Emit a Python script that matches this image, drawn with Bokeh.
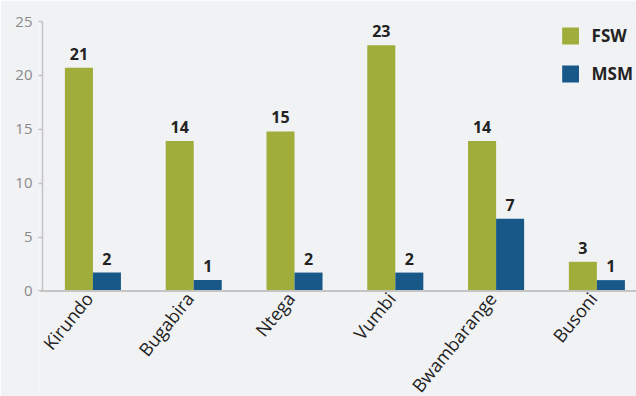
from bokeh.plotting import figure
from bokeh.models import ColumnDataSource, Range1d, FixedTicker, Legend, LegendItem, LabelSet
from bokeh.core.properties import value
from bokeh.embed import file_html
from bokeh.resources import INLINE

districts = ["Kirundo", "Bugabira", "Ntega", "Vumbi", "Bwambarange", "Busoni"]
fsw = [20.7, 13.9, 14.8, 22.8, 13.9, 2.7]
msm = [1.7, 1.0, 1.7, 1.7, 6.7, 1.0]
fsw_labels = ["21", "14", "15", "23", "14", "3"]
msm_labels = ["2", "1", "2", "2", "7", "1"]
y_ticks = [0, 5, 10, 15, 20, 25]

GREEN = "#a0ad3a"
BLUE = "#175889"
BG = "#f1f2f4"
AXIS = "#c4c4c4"
FONT = "Open Sans"

X0, X1 = -0.03, 5.893
Y0, Y1 = -9.8, 25

centers = [i + 0.5 for i in range(len(districts))]
bw = 0.278
src = ColumnDataSource(dict(
    xf=[c - bw / 2 for c in centers],
    xm=[c + bw / 2 for c in centers],
    fsw=fsw, msm=msm, fl=fsw_labels, ml=msm_labels,
))
cat_src = ColumnDataSource(dict(x=centers, y=[0] * len(centers), name=districts))

p = figure(width=636, height=396, output_backend="svg", toolbar_location=None,
           x_range=Range1d(X0, X1), y_range=Range1d(Y0, Y1),
           min_border_left=39, min_border_right=0, min_border_top=21, min_border_bottom=0)
p.background_fill_color = BG
p.border_fill_color = BG
p.outline_line_color = None
p.xgrid.visible = False
p.ygrid.visible = False
p.xaxis.visible = False

r1 = p.vbar(x="xf", top="fsw", width=bw, bottom=0, source=src, fill_color=GREEN, line_color=None)
r2 = p.vbar(x="xm", top="msm", width=bw, bottom=0, source=src, fill_color=BLUE, line_color=None)

# axis lines
p.segment(x0=[X0], y0=[0], x1=[X1], y1=[0], line_color=AXIS, line_width=2)
p.segment(x0=[0], y0=[0], x1=[0], y1=[Y1], line_color=AXIS, line_width=1.5)

for xcol, ycol, tcol in (("xf", "fsw", "fl"), ("xm", "msm", "ml")):
    p.add_layout(LabelSet(x=xcol, y=ycol, text=tcol, source=src, text_align="center",
                          text_baseline="alphabetic", y_offset=8, text_font=value(FONT),
                          text_font_size=value("16px"), text_color=value("#222222"),
                          text_font_style=value("bold")))

# category labels, rotated under the axis line
p.text(x="x", y="y", text="name", source=cat_src, angle=0.89, angle_units="rad",
       text_align="right", text_baseline="middle", x_offset=-4, y_offset=4,
       text_font=value(FONT), text_font_size="18px", text_color="#222222")

# y axis: ticks and labels only
p.yaxis.ticker = FixedTicker(ticks=y_ticks)
p.yaxis.axis_line_color = None
p.yaxis.major_tick_line_color = AXIS
p.yaxis.major_tick_line_width = 1.5
p.yaxis.major_tick_out = 1
p.yaxis.major_tick_in = 3
p.yaxis.minor_tick_line_color = None
p.yaxis.major_label_text_font = FONT
p.yaxis.major_label_text_font_size = "15px"
p.yaxis.major_label_text_color = "#8a8a8a"
p.yaxis.major_label_standoff = 6

legend = Legend(items=[LegendItem(label="FSW", renderers=[r1]),
                       LegendItem(label="MSM", renderers=[r2])],
                location="top_right", orientation="vertical",
                glyph_width=21, glyph_height=21, label_height=21, spacing=15,
                padding=0, margin=3, label_standoff=11,
                label_text_font=FONT, label_text_font_size="17px", label_text_color="#222222",
                label_text_font_style="bold",
                background_fill_alpha=0, border_line_color=None)
p.add_layout(legend)

open("out.html", "w").write(file_html(p, INLINE))
